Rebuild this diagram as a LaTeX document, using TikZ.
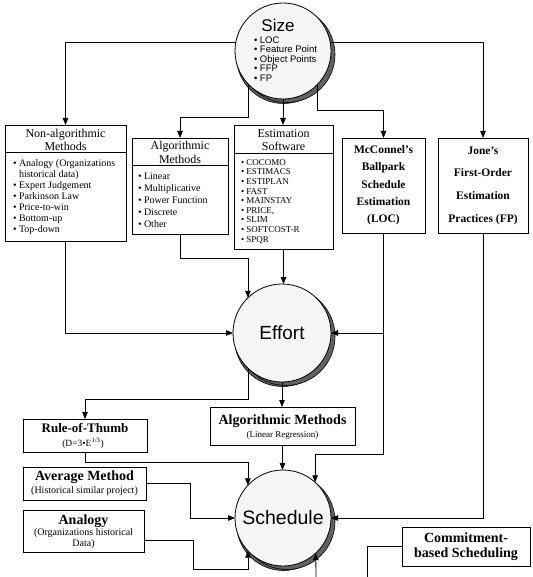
\documentclass[tikz,border=0pt]{standalone}
\usepackage{fontspec}
\setmainfont{Liberation Serif}
\newfontfamily\arialf{Liberation Sans}
\usetikzlibrary{arrows.meta,calc}
\begin{document}
\begin{tikzpicture}[x=1pt,y=-1pt,
  every node/.style={inner sep=0pt, outer sep=0pt},
  conn/.style={line width=0.8pt},
  arr/.style={conn, -{Triangle[length=7pt,width=5.5pt]}},
  box/.style={draw, line width=0.8pt, rectangle, fill=white},
  bubble/.style={circle, draw, line width=0.8pt, fill=gray!8},
  shade/.style={fill=black!62, draw=black, line width=0.6pt},
  hdr/.style={font=\fontsize{12}{13}\selectfont, align=center},
  lst/.style={align=left, anchor=west},
  btitle/.style={font=\bfseries\fontsize{14}{15}\selectfont},
  bsub/.style={font=\fontsize{10}{10}\selectfont, align=center}
]
\useasboundingbox (0,0) rectangle (532,577);

% circle shadows (crescents on the lower right)
\filldraw[shade] (283,51) ++(0.5,5.5) circle [radius=47];
\filldraw[shade] (282,333) ++(0.5,5.5) circle [radius=48];
\filldraw[shade] (283,518) ++(0.5,5.5) circle [radius=47];
\filldraw[shade] (283,51) ++(4,3.5) circle [radius=48];
\filldraw[shade] (282,333) ++(4,3.5) circle [radius=49];
\filldraw[shade] (283,518) ++(4,3.5) circle [radius=48];

% circles
\node[bubble, minimum size=96pt] (size) at (283,51) {};
\node[font=\arialf\fontsize{17}{17}\selectfont] (sizet) at (278,25) {Size};
\node[lst, font=\arialf\fontsize{9.5}{9.6}\selectfont] (sizel) at (254,59)
  {\textbullet\ LOC\\ \textbullet\ Feature Point\\ \textbullet\ Object Points\\ \textbullet\ FFP\\ \textbullet\ FP};

\node[bubble, minimum size=98pt, font=\arialf\fontsize{19}{19}\selectfont] (effort) at (282,333) {Effort};
\node[bubble, minimum size=96pt, font=\arialf\fontsize{19.5}{19.5}\selectfont] (schedule) at (283,518) {Schedule};

% Non-algorithmic
\node[box, minimum width=121pt, minimum height=116pt] (na) at (65.5,183) {};
\draw[conn] ([yshift=-27pt]na.north west) -- ([yshift=-27pt]na.north east);
\node[hdr] (nah) at (65.5,139.5) {Non-algorithmic\\Methods};
\node[lst, font=\fontsize{10}{11}\selectfont] (nal) at (13,197)
  {\textbullet\ Analogy (Organizations\\ \phantom{\textbullet\ }historical data)\\ \textbullet\ Expert Judgement\\
   \textbullet\ Parkinson Law\\ \textbullet\ Price-to-win\\ \textbullet\ Bottom-up\\ \textbullet\ Top-down};

% Algorithmic
\node[box, minimum width=96pt, minimum height=96pt] (alg) at (180,186) {};
\draw[conn] ([yshift=-27pt]alg.north west) -- ([yshift=-27pt]alg.north east);
\node[hdr, font=\fontsize{12}{14}\selectfont] (algh) at (180,152) {Algorithmic\\Methods};
\node[lst, font=\fontsize{10}{12}\selectfont] (algl) at (138,200)
  {\textbullet\ Linear\\ \textbullet\ Multiplicative\\ \textbullet\ Power Function\\ \textbullet\ Discrete\\ \textbullet\ Other};

% Estimation Software
\node[box, minimum width=99pt, minimum height=124pt] (est) at (283.5,187) {};
\draw[conn] ([yshift=-28pt]est.north west) -- ([yshift=-28pt]est.north east);
\node[hdr, font=\fontsize{12}{12.5}\selectfont] (esth) at (283.5,140) {Estimation\\Software};
\node[lst, font=\fontsize{9}{9.6}\selectfont] (estl) at (241,201.5)
  {\textbullet\ COCOMO\\ \textbullet\ ESTIMACS\\ \textbullet\ ESTIPLAN\\ \textbullet\ FAST\\ \textbullet\ MAINSTAY\\
   \textbullet\ PRICE,\\ \textbullet\ SLIM\\ \textbullet\ SOFTCOST-R\\ \textbullet\ SPQR};

% McConnel, Jones
\node[box, minimum width=83pt, minimum height=95pt, align=center, font=\bfseries\fontsize{11.5}{17.3}\selectfont]
  (mcc) at (383.5,185.5) {McConnel's\\Ballpark\\Schedule\\Estimation\\(LOC)};
\node[box, minimum width=90pt, minimum height=95pt, align=center, font=\bfseries\fontsize{11.5}{22.7}\selectfont]
  (jones) at (483,185.5) {Jone's\\First-Order\\Estimation\\Practices (FP)};

% lower boxes
\node[box, minimum width=145pt, minimum height=38pt] (linreg) at (282.5,426) {};
\node[btitle] (linregt) at (282.5,421.5) {Algorithmic Methods};
\node[bsub, font=\fontsize{9}{9}\selectfont] (linregs) at (282.5,435.5) {(Linear Regression)};

\node[box, minimum width=124pt, minimum height=33pt] (rot) at (85,435.5) {};
\node[btitle, font=\bfseries\fontsize{13}{14}\selectfont] (rott) at (85,428) {Rule-of-Thumb};
\node[bsub, font=\fontsize{9.5}{9.5}\selectfont] (rots) at (83,443.5) {(D=3\textbullet E\textsuperscript{1/3})};

\node[box, minimum width=123pt, minimum height=33pt] (avg) at (84.5,483.5) {};
\node[btitle] (avgt) at (84.5,477.5) {Average Method};
\node[bsub] (avgs) at (84.5,491.5) {(Historical similar project)};

\node[box, minimum width=121pt, minimum height=42pt] (ana) at (83.5,531) {};
\node[btitle] (anat) at (83.5,521.5) {Analogy};
\node[bsub, font=\fontsize{10}{10.5}\selectfont] (anas) at (83.5,538.5) {(Organizations historical\\Data)};

\node[box, minimum width=128pt, minimum height=39pt, align=center, font=\bfseries\fontsize{14}{15}\selectfont]
  (commit) at (466,546.5) {Commitment-\\based Scheduling};

\coordinate (cb) at (367,577);
\coordinate (sb) at (316,577);

% connectors from Size
\draw[arr] (size.170) -| (na.north);
\draw[arr] (size.10) -| (jones.north);
\draw[arr] (size.223) |- ([yshift=21pt]alg.north) -- (alg.north);
\draw[arr] (size.south) -- (size.south |- est.north);
\draw[arr] (size.315) |- ([yshift=28pt]mcc.north) -- (mcc.north);

% into Effort
\draw[arr] (na.south) |- (effort.west);
\draw[arr] (alg.south) -- ++(0,24) -| (effort.134);
\draw[arr] (est.south) -- (est.south |- effort.north);
\draw[arr] (mcc.south |- effort.east) -- (effort.east);
\draw[arr] (mcc.south) -- ++(0,221) -| (schedule.48);

% from Effort
\draw[arr] (effort.south) -- (effort.south |- linreg.north);
\draw[arr] (effort.226) -- ++(0,31) -| (rot.north);

% into Schedule
\draw[arr] (linreg.south) -- (linreg.south |- schedule.north);
\draw[arr] (rot.south) -- ++(0,10) -| (schedule.137);
\draw[arr] (avg.east) -- ++(44,0) |- (schedule.west);
\draw[arr] ([yshift=-9pt]ana.east) -- ++(49,0) -- ++(0,29) -| (schedule.223);
\draw[arr] (jones.south) |- (schedule.east);
\draw[arr] (sb) -- (schedule.313);
\draw[conn] (commit.west) -| (cb);
\end{tikzpicture}
\end{document}
